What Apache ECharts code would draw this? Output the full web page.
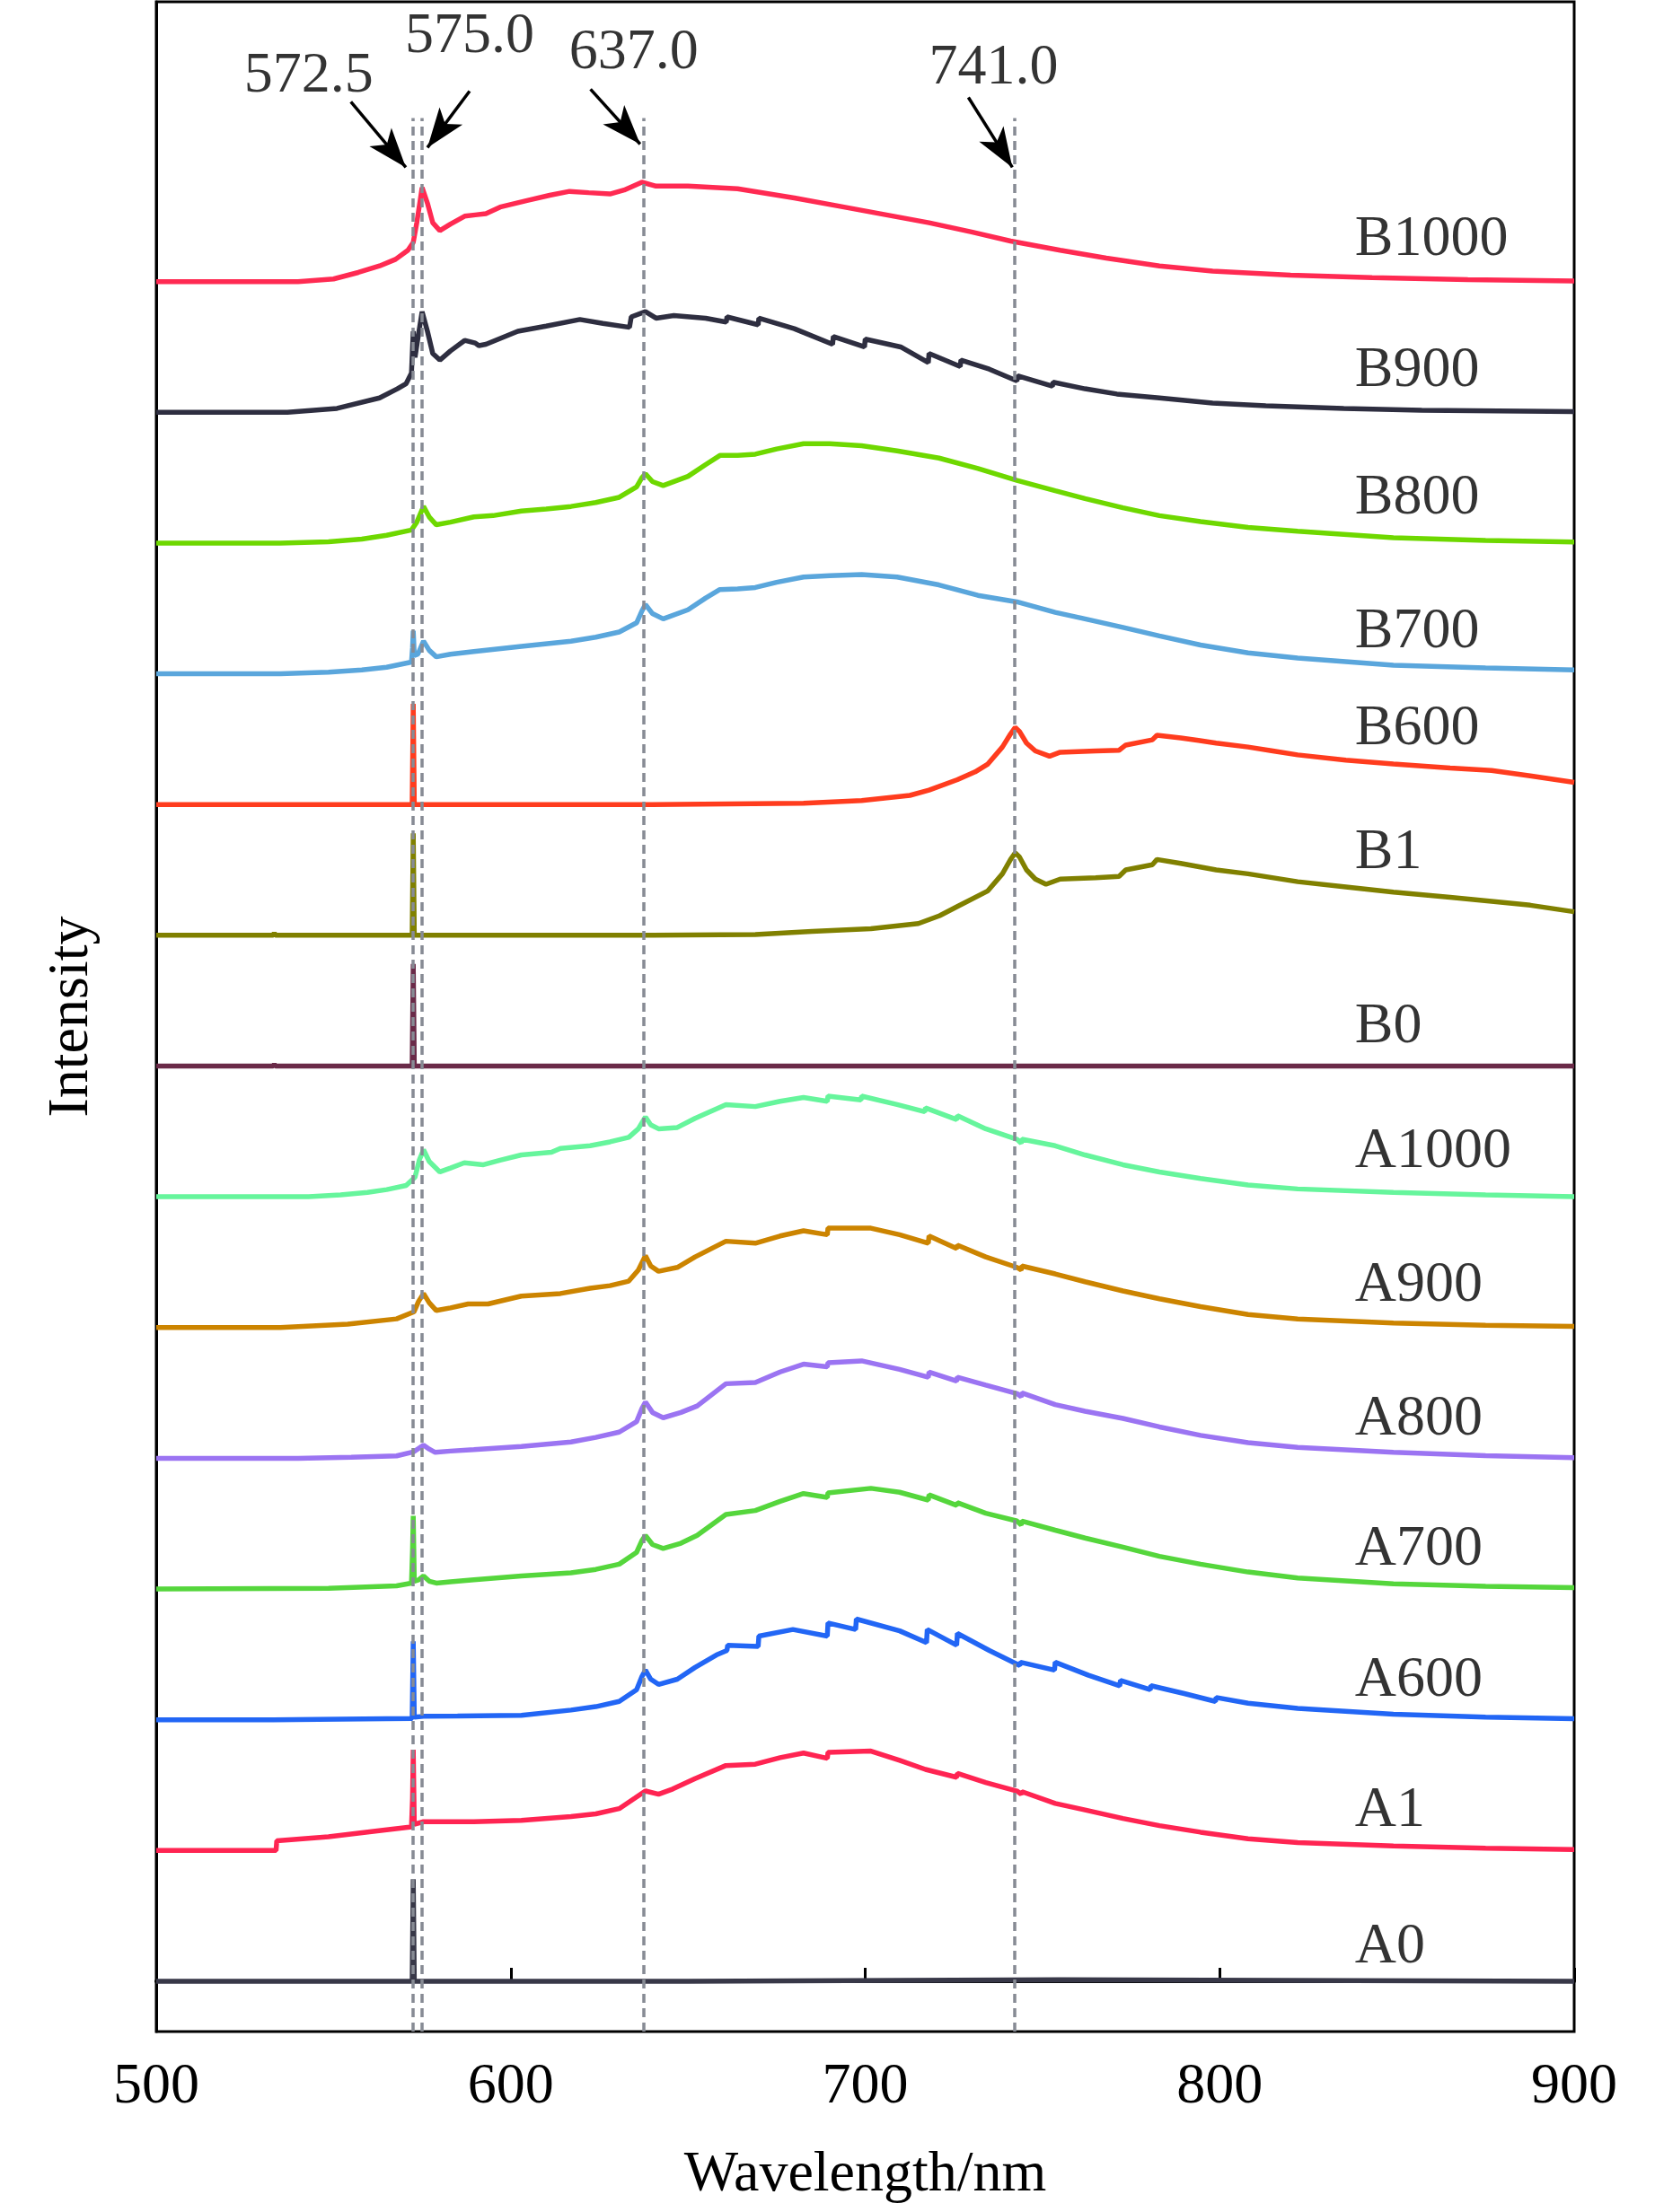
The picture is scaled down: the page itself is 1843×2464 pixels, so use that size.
<!DOCTYPE html>
<html>
<head>
<meta charset="utf-8">
<script src="https://cdn.jsdelivr.net/npm/echarts@6/dist/echarts.min.js"></script>
<style>
  html, body { margin: 0; padding: 0; background: #fff; }
  #chart { width: 1843px; height: 2464px; }
</style>
</head>
<body>
<div id="chart"></div>
<script>
// sample names, top to bottom
var names = ['B1000', 'B900', 'B800', 'B700', 'B600', 'B1', 'B0',
  'A1000', 'A900', 'A800', 'A700', 'A600', 'A1', 'A0']

// spectra as [wavelength nm, intensity] (1 = one trace spacing)
var B1000 = [[500,0],[540,0],[550,0.02],[557,0.07],[563,0.12],[567.5,0.17],[571,0.24],[572.5,0.3],[573.5,0.45],[575,0.72],[576.5,0.6],[578,0.45],[580,0.39],[583,0.44],[587,0.5],[590,0.51],[593,0.52],[597,0.57],[604.6,0.62],[611,0.66],[616.6,0.69],[622,0.68],[628,0.67],[632,0.7],[637,0.76],[641,0.73],[650,0.73],[664,0.71],[680,0.64],[694,0.57],[706,0.51],[718,0.45],[730,0.38],[741,0.31],[755,0.24],[768,0.18],[783,0.12],[798,0.08],[820,0.05],[843,0.03],[870,0.015],[900,0.005]]
var B900 = [[500,0],[537,0],[551,0.03],[563,0.11],[568,0.18],[570.5,0.22],[572,0.3],[572.5,0.62],[573,0.42],[574,0.6],[575,0.77],[576.5,0.62],[578,0.45],[580,0.4],[583,0.47],[587,0.55],[590,0.53],[591,0.51],[593,0.52],[602,0.62],[610,0.66],[619.5,0.71],[626,0.68],[633.5,0.65],[634,0.73],[638,0.77],[641,0.72],[646,0.74],[655,0.72],[660.8,0.69],[661,0.73],[669.8,0.67],[670,0.72],[680,0.64],[690.8,0.52],[691,0.58],[699.8,0.5],[700,0.56],[710,0.5],[717.8,0.38],[718,0.45],[726.8,0.35],[727,0.4],[735,0.33],[742.8,0.24],[743,0.28],[752.8,0.2],[753,0.23],[762,0.18],[771,0.14],[783,0.11],[798,0.07],[813,0.05],[835,0.03],[857,0.015],[900,0.005]]
var B800 = [[500,0],[535,0],[548.6,0.01],[558,0.03],[565,0.06],[572,0.1],[573.5,0.16],[575.4,0.28],[577,0.2],[579,0.14],[583,0.16],[589.6,0.2],[595,0.21],[603,0.245],[610,0.26],[617,0.28],[624,0.31],[630.6,0.35],[635.5,0.43],[637,0.5],[638,0.53],[640,0.47],[643,0.44],[650,0.51],[655,0.6],[659,0.67],[664,0.67],[669,0.68],[675,0.72],[682.6,0.76],[690,0.76],[699,0.745],[709,0.705],[720.8,0.65],[731.8,0.57],[742.8,0.48],[753.6,0.4],[762,0.34],[772.7,0.27],[783,0.21],[794.6,0.165],[808,0.12],[822,0.09],[849,0.04],[875,0.02],[900,0.008]]
var B700 = [[500,0],[535,0],[548.6,0.013],[558,0.03],[565,0.05],[572,0.09],[572.3,0.2],[572.5,0.33],[572.8,0.14],[573.8,0.15],[575.4,0.25],[577,0.18],[579,0.13],[583,0.15],[589.6,0.17],[603,0.21],[617,0.25],[624,0.28],[630.6,0.32],[635.5,0.39],[637,0.48],[638,0.53],[640,0.46],[643,0.42],[650,0.49],[655,0.58],[659,0.645],[664,0.65],[669,0.66],[675,0.7],[682.6,0.74],[690,0.75],[699,0.76],[709,0.74],[720.8,0.68],[731.8,0.6],[742.8,0.55],[753.6,0.47],[762,0.42],[772.7,0.355],[783,0.29],[794.6,0.22],[808,0.16],[822,0.12],[849,0.066],[875,0.045],[900,0.03]]
var B600 = [[500,0],[572.2,0],[572.5,0.77],[572.8,0],[640,0],[682.6,0.01],[699,0.03],[712.6,0.07],[718,0.11],[726,0.19],[731,0.25],[734.6,0.31],[738.7,0.44],[741,0.54],[742.3,0.59],[743.5,0.56],[745.5,0.47],[748,0.41],[751,0.38],[752,0.37],[755,0.4],[765,0.41],[771.6,0.415],[773.5,0.455],[781,0.495],[782.3,0.53],[789,0.51],[794,0.49],[799,0.47],[808,0.44],[815,0.41],[822,0.38],[835.6,0.34],[849,0.31],[865,0.28],[876.7,0.26],[887.6,0.22],[900,0.17]]
var B1 = [[500,0],[533,0],[533.3,0.02],[533.6,0],[572.2,0],[572.5,0.78],[572.8,0],[640,0],[669,0.005],[685,0.03],[701.6,0.05],[715,0.09],[721,0.15],[726,0.22],[734.6,0.34],[738.7,0.47],[741,0.58],[742.3,0.63],[743.5,0.6],[745.5,0.5],[748,0.43],[751,0.39],[755,0.43],[765,0.44],[771.6,0.45],[773.5,0.5],[781,0.54],[782.3,0.58],[789,0.55],[799,0.5],[808,0.47],[822,0.41],[835.6,0.37],[849,0.33],[865,0.29],[876.7,0.26],[887.6,0.23],[900,0.18]]
var B0 = [[500,0],[533,0],[533.3,0.015],[533.6,0],[572.2,0],[572.5,0.78],[572.8,0],[611,0],[611.3,0.01],[611.6,0],[900,0]]
var A1000 = [[500,0],[543,0],[552,0.015],[559.6,0.034],[565,0.055],[570.5,0.087],[573,0.15],[574.2,0.28],[575.4,0.36],[577,0.27],[580,0.19],[583,0.22],[586.9,0.26],[592.3,0.245],[597,0.28],[603,0.32],[611.5,0.34],[614,0.37],[622.4,0.39],[628,0.42],[633.3,0.455],[636,0.52],[638,0.61],[639.5,0.55],[641.7,0.52],[647,0.53],[652,0.6],[660.7,0.705],[669,0.69],[676,0.73],[682.6,0.76],[689.3,0.73],[689.5,0.77],[698.8,0.74],[699,0.77],[709,0.705],[716.8,0.65],[717,0.68],[725.8,0.59],[726,0.62],[734,0.52],[742.8,0.44],[744,0.41],[744.2,0.44],[753.6,0.39],[762,0.32],[772.7,0.245],[783,0.19],[794.6,0.14],[808,0.09],[822,0.06],[849,0.034],[875,0.015],[900,0]]
var A900 = [[500,0],[535,0],[554,0.026],[567.8,0.066],[572.7,0.12],[574,0.2],[575.4,0.26],[577,0.19],[579,0.13],[583,0.15],[588,0.18],[593.6,0.18],[603,0.24],[614,0.26],[622.4,0.3],[628,0.32],[633.3,0.355],[636,0.44],[638,0.55],[639.5,0.47],[641.7,0.43],[647,0.46],[652,0.54],[660.7,0.66],[669,0.645],[676,0.7],[682.6,0.74],[689.3,0.71],[689.5,0.76],[701.6,0.76],[709.7,0.71],[717.8,0.645],[718,0.7],[725.8,0.605],[726,0.63],[734,0.54],[742.8,0.46],[744,0.44],[744.2,0.47],[753.6,0.41],[762,0.35],[772.7,0.28],[783,0.22],[794.6,0.16],[808,0.1],[822,0.066],[849,0.034],[875,0.018],[900,0.008]]
var A800 = [[500,0],[540,0],[555,0.008],[567.8,0.018],[572.7,0.05],[575.4,0.1],[577,0.07],[578.7,0.045],[583,0.055],[589.6,0.066],[603,0.09],[617,0.125],[624,0.16],[630.6,0.2],[635.5,0.28],[637,0.38],[638,0.43],[640,0.35],[643,0.31],[648,0.35],[652.6,0.4],[660.7,0.57],[669,0.58],[676,0.66],[682.6,0.72],[689.3,0.7],[689.5,0.73],[699,0.745],[709.7,0.68],[717.8,0.62],[718,0.66],[725.8,0.59],[726,0.62],[734,0.56],[742.8,0.495],[744,0.47],[744.2,0.5],[753.6,0.41],[762,0.36],[772.7,0.305],[783,0.24],[794.6,0.175],[808,0.12],[822,0.084],[849,0.045],[875,0.02],[900,0.005]]
var A700 = [[500,0],[548.6,0.005],[567.8,0.024],[572,0.045],[572.3,0.3],[572.5,0.56],[572.8,0.06],[574,0.07],[575.4,0.1],[577,0.06],[579,0.045],[583,0.055],[589.6,0.07],[603,0.1],[617,0.124],[624,0.15],[630.6,0.19],[635.5,0.28],[637,0.37],[638,0.41],[640,0.34],[643,0.31],[648,0.35],[652.6,0.41],[660.7,0.57],[669,0.6],[676,0.67],[682.6,0.73],[689.3,0.7],[689.5,0.735],[701.6,0.77],[709.7,0.74],[717.8,0.68],[718,0.72],[725.8,0.64],[726,0.66],[734,0.58],[742.8,0.52],[744,0.49],[744.2,0.52],[753.6,0.45],[762,0.39],[772.7,0.32],[783,0.25],[794.6,0.19],[808,0.13],[822,0.084],[849,0.04],[875,0.02],[900,0.01]]
var A600 = [[500,0],[533,0],[533.3,0.01],[565,0.008],[572.2,0.01],[572.5,0.6],[572.8,0.02],[575.4,0.026],[585,0.028],[603,0.034],[617,0.074],[624,0.1],[630.6,0.14],[635.5,0.23],[637,0.33],[638,0.38],[639.5,0.31],[641.7,0.27],[647,0.31],[652,0.4],[658,0.495],[661,0.53],[661.2,0.57],[669.8,0.56],[670,0.64],[679.6,0.69],[689.3,0.64],[689.5,0.74],[697.3,0.69],[697.5,0.77],[709.7,0.68],[717.3,0.59],[717.5,0.69],[725.8,0.57],[726,0.66],[735,0.53],[743.6,0.415],[743.8,0.44],[753.4,0.38],[753.6,0.44],[763,0.34],[771.8,0.26],[772,0.3],[780.4,0.23],[780.6,0.26],[790,0.2],[798.8,0.14],[799,0.17],[808,0.126],[822,0.087],[849,0.042],[875,0.02],[900,0.008]]
var A1 = [[500,0],[533.8,0],[534,0.074],[548.6,0.105],[562.3,0.15],[572,0.18],[572.3,0.4],[572.5,0.77],[572.8,0.2],[575.4,0.22],[589.6,0.22],[603,0.23],[617,0.26],[624,0.28],[630.6,0.32],[635,0.4],[638,0.455],[641.7,0.43],[645.7,0.47],[652,0.55],[660.7,0.65],[669,0.66],[676,0.71],[682.6,0.745],[689.3,0.705],[689.5,0.75],[701.6,0.76],[709.7,0.69],[717,0.62],[725.8,0.56],[726,0.59],[734,0.52],[742.8,0.455],[744,0.43],[744.2,0.45],[753.6,0.36],[762,0.31],[772.7,0.245],[783,0.19],[794.6,0.14],[808,0.09],[822,0.06],[849,0.034],[875,0.018],[900,0.008]]
var A0 = [[500,0],[531,0],[531.3,0.01],[531.6,0],[572.2,0],[572.5,0.78],[572.8,0],[650,0],[650.5,0.012],[755,0.012],[755.5,0],[900,0]]

var spectra = [B1000, B900, B800, B700, B600, B1, B0, A1000, A900, A800, A700, A600, A1, A0]

// marked peaks: where the dashed guide sits and what it is labelled
var peakLines = [572.5, 575.0, 637.6, 742.2]
var peakTexts = ['572.5', '575.0', '637.0', '741.0']

// ---- layout / style (not data) ----
var colors = ['#ff2a52', '#2e2e40', '#6ed800', '#5aa6dc', '#ff3c1e', '#808000', '#6a2a48',
  '#66f59c', '#cc8400', '#9b74f2', '#55d63c', '#2266f5', '#ff2452', '#383848']
var labelLift = [0.32, 0.32, 0.34, 0.32, 0.58, 0.63, 0.3, 0.34, 0.32, 0.3, 0.3, 0.3, 0.3, 0.26]
var labelX = 838
var yMin = -0.385
var yMax = 15.14
var guideTop = 14.25
// annotation text centres and arrow [from, to] in data coords
var textPos = [[543.0, 14.57], [588.4, 14.87], [634.7, 14.75], [736.2, 14.63]]
var arrows = [
  [[554.9, 14.375], [570.4, 13.874]],
  [[588.4, 14.457], [576.5, 14.025]],
  [[622.5, 14.471], [636.5, 14.052]],
  [[729.1, 14.409], [741.5, 13.874]]
]
var FONT = 'Liberation Serif'

var chart = echarts.init(document.getElementById('chart'))

var series = []
spectra.forEach(function (sp, i) {
  var off = names.length - 1 - i
  series.push({
    name: names[i],
    type: 'line',
    showSymbol: false,
    symbol: 'none',
    z: 3,
    data: sp.map(function (p) { return [p[0], p[1] + off] }),
    lineStyle: { color: colors[i], width: 5.5 },
    itemStyle: { color: colors[i] }
  })
})

// sample labels
series.push({
  type: 'scatter',
  symbolSize: 1,
  itemStyle: { color: 'rgba(0,0,0,0)' },
  z: 5,
  data: names.map(function (n, i) {
    return [labelX, names.length - 1 - i + labelLift[i], n]
  }),
  label: {
    show: true,
    position: 'right',
    distance: 0,
    formatter: function (p) { return p.data[2] },
    fontFamily: FONT,
    fontSize: 64,
    color: '#000'
  }
})

// peak annotations: dashed guides, arrows and values
series.push({
  type: 'scatter',
  symbolSize: 1,
  itemStyle: { color: 'rgba(0,0,0,0)' },
  z: 6,
  data: textPos.map(function (p, i) { return [p[0], p[1], peakTexts[i]] }),
  label: {
    show: true,
    position: 'inside',
    formatter: function (p) { return p.data[2] },
    fontFamily: FONT,
    fontSize: 64,
    color: '#000'
  },
  markLine: {
    silent: true,
    animation: false,
    symbol: ['none', 'none'],
    label: { show: false },
    data: peakLines.map(function (x) {
      return [
        { coord: [x, yMin], lineStyle: { color: '#878b94', width: 3.5, type: [10, 6] } },
        { coord: [x, guideTop] }
      ]
    }).concat(arrows.map(function (a) {
      return [
        { coord: a[0], symbol: 'none', lineStyle: { color: '#000', width: 3.5, type: 'solid' } },
        { coord: a[1], symbol: 'arrow', symbolSize: [24, 44] }
      ]
    }))
  }
})

chart.setOption({
  animation: false,
  backgroundColor: '#fff',
  grid: {
    left: 174, right: 90, top: 2, bottom: 201,
    show: true, borderColor: '#000', borderWidth: 3, backgroundColor: 'transparent'
  },
  xAxis: {
    type: 'value',
    min: 500, max: 900, interval: 100,
    name: 'Wavelength/nm',
    nameLocation: 'middle',
    nameGap: 128,
    nameTextStyle: { fontFamily: FONT, fontSize: 64, color: '#000' },
    axisLine: { lineStyle: { color: '#000', width: 4 } },
    axisTick: { inside: true, length: 15, lineStyle: { color: '#000', width: 3 } },
    axisLabel: { fontFamily: FONT, fontSize: 64, color: '#000', margin: 30 },
    splitLine: { show: false }
  },
  yAxis: {
    type: 'value',
    min: yMin, max: yMax,
    name: 'Intensity',
    nameLocation: 'middle',
    nameGap: 62,
    nameTextStyle: { fontFamily: FONT, fontSize: 64, color: '#000' },
    axisLine: { show: true, lineStyle: { color: '#000', width: 3 } },
    axisTick: { show: false },
    axisLabel: { show: false },
    splitLine: { show: false }
  },
  series: series
})
</script>
</body>
</html>
